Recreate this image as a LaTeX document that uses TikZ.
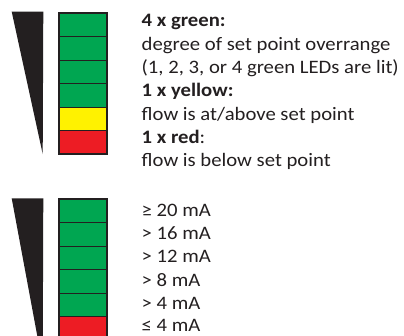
\documentclass[tikz,border=0pt]{standalone}
\usepackage{fontspec}
\setmainfont{Carlito}
\usepackage{graphicx}
\definecolor{ink}{HTML}{231F20}
\definecolor{ledgreen}{HTML}{00A651}
\definecolor{ledyellow}{HTML}{FFF200}
\definecolor{ledred}{HTML}{ED1C24}
\newlength\reflen
\newcommand\hfac{1}
\AtBeginDocument{%
  \settowidth\reflen{\fontsize{19}{23}\selectfont (1, 2, 3, or 4 green LEDs are lit)}%
  \pgfmathsetmacro\hfac{257/\reflen}%
  \global\let\hfac\hfac}
\newcommand\hs[1]{\scalebox{\hfac}[1]{#1}}
\begin{document}
\begin{tikzpicture}[x=1pt,y=-1pt,
  txtfont/.style={font=\fontsize{19}{23}\selectfont},
  txt/.style={txtfont, anchor=base west, inner sep=0pt, outer sep=0pt, text=ink},
  cell/.style={draw=ink, line width=1pt, minimum width=47.4pt, minimum height=23.5pt, inner sep=0pt, outer sep=0pt},
  ledframe/.style={draw=ink, line width=2pt},
  wedge/.style={fill=ink, draw=none}]
\useasboundingbox (0,0) rectangle (404,335);
\clip (0,0) rectangle (404,335);
% wedges
\fill[wedge] (11.7,11.7) -- (43.3,11.7) -- (42.7,154) -- cycle;
\fill[wedge] (11.7,198.3) -- (43.3,198.3) -- (42.7,365) -- cycle;
% top LED bar
\node[cell, fill=ledgreen]  (a1) at (83,25.05) {};
\node[cell, fill=ledgreen]  (a2) at (83,48.55) {};
\node[cell, fill=ledgreen]  (a3) at (83,72.05) {};
\node[cell, fill=ledgreen]  (a4) at (83,95.55) {};
\node[cell, fill=ledyellow] (a5) at (83,119.05) {};
\node[cell, fill=ledred]    (a6) at (83,142.55) {};
\draw[ledframe] (a1.north west) rectangle (a6.south east);
% bottom LED bar
\node[cell, fill=ledgreen]  (b1) at (83,211.05) {};
\node[cell, fill=ledgreen]  (b2) at (83,234.55) {};
\node[cell, fill=ledgreen]  (b3) at (83,258.05) {};
\node[cell, fill=ledgreen]  (b4) at (83,281.55) {};
\node[cell, fill=ledgreen]  (b5) at (83,305.05) {};
\node[cell, fill=ledred]    (b6) at (83,328.55) {};
\draw[ledframe] (b1.north west) rectangle (b6.south east);
% top text
\node[txt] (t1) at (141.7,26.7)  {\hs{\bfseries 4 x green:}};
\node[txt] (t2) at (141.7,50.1)  {\hs{degree of set point overrange}};
\node[txt] (t3) at (141.7,73.4)  {\hs{(1, 2, 3, or 4 green LEDs are lit)}};
\node[txt] (t4) at (141.7,96.8)  {\hs{\bfseries 1 x yellow:}};
\node[txt] (t5) at (141.7,120.1) {\hs{flow is at/above set point}};
\node[txt] (t6) at (141.7,143.5) {\hs{\textbf{1 x red}:}};
\node[txt] (t7) at (141.7,166.8) {\hs{flow is below set point}};
% bottom text
\node[txt] (u1) at (141.7,216)   {\hs{≥ 20 mA}};
\node[txt] (u2) at (141.7,239.4) {\hs{> 16 mA}};
\node[txt] (u3) at (141.7,262.8) {\hs{> 12 mA}};
\node[txt] (u4) at (141.7,286.2) {\hs{> 8 mA}};
\node[txt] (u5) at (141.7,309.6) {\hs{> 4 mA}};
\node[txt] (u6) at (141.7,331.6) {\hs{≤ 4 mA}};
\end{tikzpicture}
\end{document}
